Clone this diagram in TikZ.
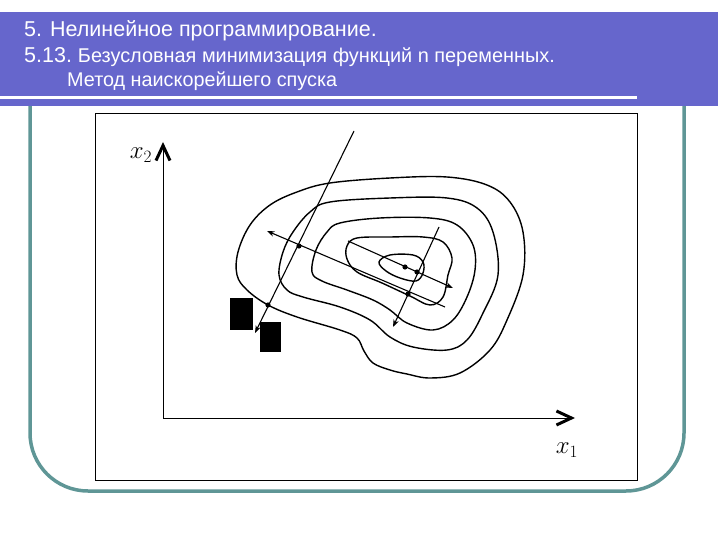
\documentclass[tikz,border=0pt]{standalone}
\usepackage{fontspec}
\newfontfamily\hdrfont{Liberation Sans}
\usetikzlibrary{arrows.meta}
\definecolor{bandblue}{RGB}{102,102,204}
\definecolor{frameteal}{RGB}{95,150,150}

\begin{document}
\begin{tikzpicture}[x=1pt,y=-1pt,
  level/.style={line width=1.4pt},
  ray/.style={line width=1.1pt,-{Stealth[length=7.5pt,width=5.5pt]}},
  axisline/.style={line width=1pt,-{Straight Barb[length=15pt,width=14pt,line width=3pt]}},
  hdr/.style={text=white,inner sep=0pt,anchor=base west},
  dot/.style={fill=black}]
  \useasboundingbox (0,0) rectangle (720,540);
  % draw rounded slide frame and title band
  \draw[frameteal,line width=3.5pt,rounded corners=58pt] (30,100) -- (30,491) -- (684,491) -- (684,100);
  \fill[bandblue] (0,12) rectangle (718,106);
  \draw[white,line width=2.5pt] (0,97.5) -- (637,97.5);
  \node[hdr] (title) at (24,37) {\hdrfont\fontsize{21.5}{24}\selectfont 5. Нелинейное программирование.};
  \node[hdr] (subtitle) at (24,63) {\hdrfont{\fontsize{21.5}{24}\selectfont 5.13.\ }\fontsize{19.9}{24}\selectfont Безусловная минимизация функций n переменных.};
  \node[hdr] (method) at (67,87) {\hdrfont\fontsize{19.8}{24}\selectfont Метод наискорейшего спуска};
  % draw picture box and axes
  \draw[line width=0.8pt] (95.5,113.5) rectangle (637,480);
  \coordinate (o) at (163,418);
  \coordinate (ytip) at (163,142);
  \coordinate (xtip) at (575,418);
  \draw[axisline] (o) -- (ytip);
  \draw[axisline] (o) -- (xtip);
  \node (lblxtwo) at (141,155) {\fontsize{24}{28}\selectfont $x_{2}$};
  \node (lblxone) at (567,450) {\fontsize{24}{28}\selectfont $x_{1}$};
  % draw level curves
  \draw[level] plot[smooth cycle,tension=0.6] coordinates {(237,275) (247,290) (268,305) (297,317) (340,330) (357,338) (364,351) (373,363) (390,370) (407,374) (430,378) (460,373) (490,350) (507,320) (523,275) (523,232) (510,202) (487,185) (447,177) (390,178) (330,183) (297,192) (270,205) (250,225) (238,252)};
  \draw[level] plot[smooth cycle,tension=0.6] coordinates {(279,275) (287,290) (303,297) (340,307) (370,320) (390,337) (413,347) (447,350) (467,340) (483,313) (498,275) (493,232) (477,208) (447,198) (390,198) (330,202) (310,212) (293,232) (283,252)};
  \draw[level] plot[smooth cycle,tension=0.6] coordinates {(312,272) (322,281) (347,290) (373,300) (390,310) (407,323) (433,330) (453,320) (467,297) (475,270) (473,245) (457,225) (430,218) (380,218) (340,223) (327,232) (316,250)};
  \draw[level] plot[smooth cycle,tension=0.6] coordinates {(357,272) (382,283) (410,296) (430,305) (443,297) (448,275) (452,258) (443,242) (423,237) (390,237) (357,238) (347,246) (347,259)};
  \draw[level] plot[smooth cycle,tension=0.6] coordinates {(379,262) (390,255) (413,255) (423,262) (423,273) (416,281) (400,278) (386,271)};
  % draw descent directions
  \coordinate (aone) at (354,131);
  \coordinate (bone) at (255,333);
  \coordinate (atwo) at (445,307);
  \coordinate (btwo) at (267,231);
  \coordinate (athree) at (348,241);
  \coordinate (bthree) at (453,288);
  \coordinate (afour) at (439,227);
  \coordinate (bfour) at (393,327);
  \draw[ray] (aone) -- (bone);
  \draw[ray] (atwo) -- (btwo);
  \draw[ray] (athree) -- (bthree);
  \draw[ray] (afour) -- (bfour);
  \fill[dot] (268,305) circle (2.6pt);
  \fill[dot] (299,246) circle (2.6pt);
  \fill[dot] (408,294) circle (2.6pt);
  \fill[dot] (417,272) circle (2.6pt);
  \fill[dot] (405,267) circle (2.6pt);
  % draw black blocks
  \fill (230,298) rectangle (253,330);
  \fill (260,322) rectangle (281,352);
\end{tikzpicture}
\end{document}
